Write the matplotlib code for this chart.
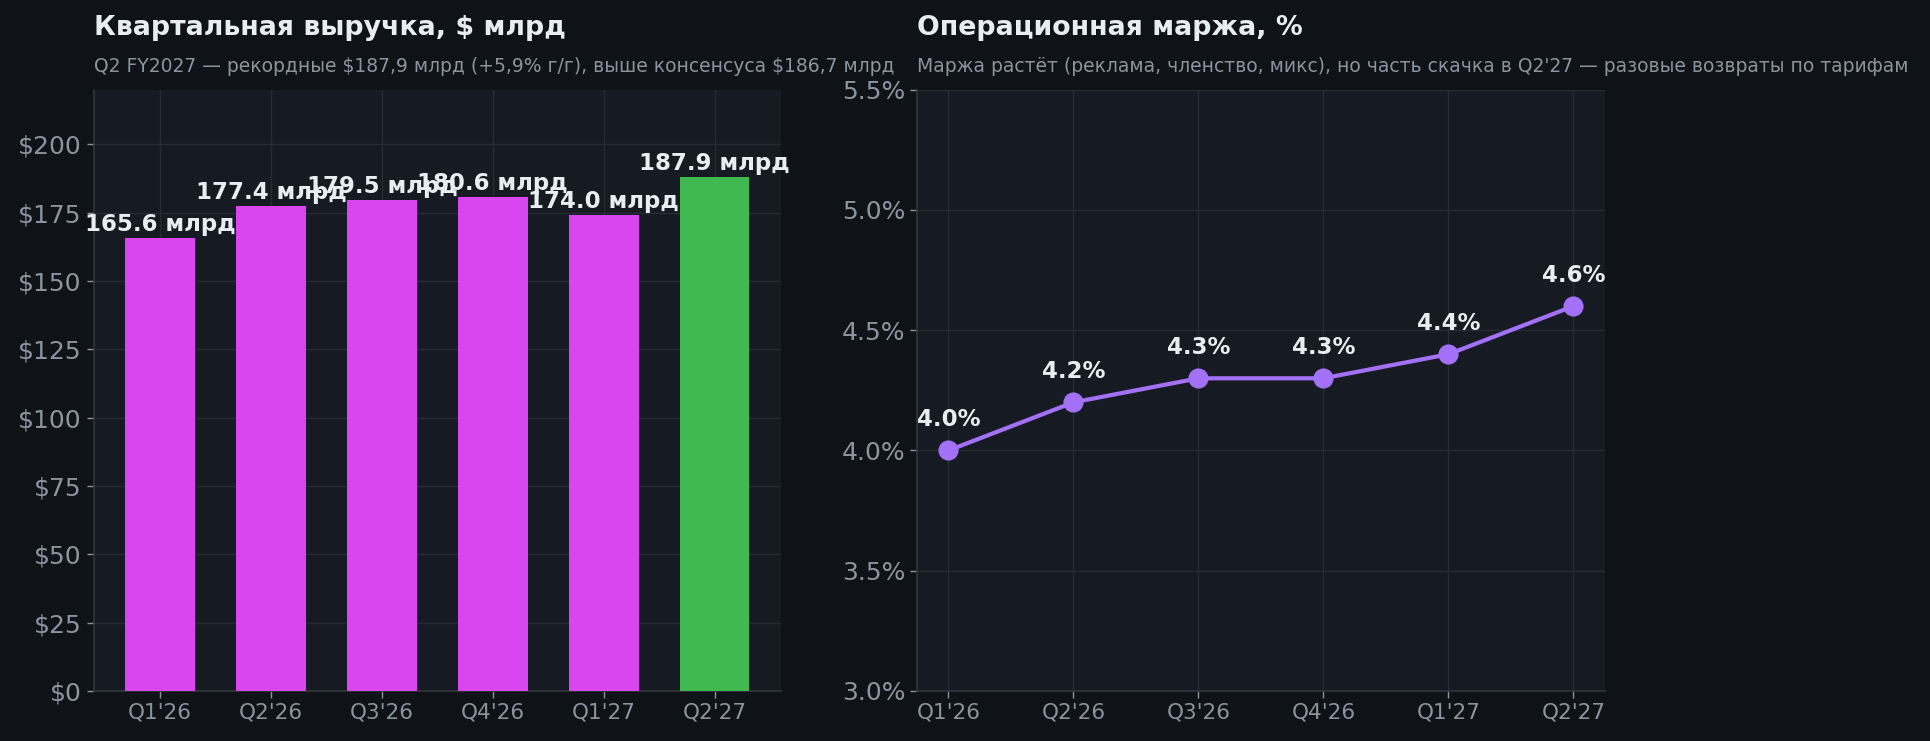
import matplotlib
matplotlib.use("Agg")
import matplotlib.pyplot as plt
from matplotlib.ticker import FuncFormatter, MultipleLocator

quarters = ["Q1'26", "Q2'26", "Q3'26", "Q4'26", "Q1'27", "Q2'27"]
revenue = [165.6, 177.4, 179.5, 180.6, 174.0, 187.9]
margin = [4.0, 4.2, 4.3, 4.3, 4.4, 4.6]

title_left = "Квартальная выручка, $ млрд"
sub_left = "Q2 FY2027 — рекордные $187,9 млрд (+5,9% г/г), выше консенсуса $186,7 млрд"
title_right = "Операционная маржа, %"
sub_right = "Маржа растёт (реклама, членство, микс), но часть скачка в Q2'27 — разовые возвраты по тарифам"

FIG_BG = "#0f1318"
AX_BG = "#161a22"
GRID = "#262b34"
SPINE = "#30363d"
TICK = "#8b949e"
TEXT = "#e6edf3"
MAGENTA = "#d946ef"
GREEN = "#3fb950"
PURPLE = "#a371f7"

plt.rcParams['font.family'] = ['DejaVu Sans']
plt.rcParams['text.parse_math'] = False

fig = plt.figure(figsize=(19.31, 7.41), dpi=100, facecolor=FIG_BG)
ax1 = fig.add_axes([0.0485, 0.0675, 0.356, 0.8115])
ax2 = fig.add_axes([0.475, 0.0675, 0.356, 0.8115])

for ax in (ax1, ax2):
    ax.set_facecolor(AX_BG)
    ax.grid(True, color=GRID, linewidth=1.0)
    ax.set_axisbelow(True)
    for s in ("top", "right"):
        ax.spines[s].set_visible(False)
    for s in ("left", "bottom"):
        ax.spines[s].set_color(SPINE)
        ax.spines[s].set_linewidth(1.2)
    ax.tick_params(axis='both', colors=TICK, length=5, width=1)
    ax.tick_params(axis='y', labelsize=18)
    ax.tick_params(axis='x', labelsize=15.5)

# Left: bars
x = list(range(len(quarters)))
colors = [MAGENTA] * (len(quarters) - 1) + [GREEN]
bars = ax1.bar(x, revenue, width=0.63, color=colors, zorder=3)
ax1.set_xlim(-0.6, len(quarters) - 0.4)
ax1.set_ylim(0, 220)
ax1.yaxis.set_major_locator(MultipleLocator(25))
ax1.yaxis.set_major_formatter(FuncFormatter(lambda v, p: f"${v:.0f}"))
ax1.set_xticks(x)
ax1.set_xticklabels(quarters)
for xi, v in zip(x, revenue):
    ax1.annotate(f"{v:.1f} млрд", (xi, v), xytext=(0, 5), textcoords="offset points",
                 ha="center", va="baseline", color=TEXT, fontsize=16.5, fontweight="bold", zorder=5)

# Right: line
ax2.plot(x, margin, color=PURPLE, linewidth=3, marker="o", markersize=13.5, zorder=3)
ax2.set_xlim(-0.25, len(quarters) - 0.75)
ax2.set_ylim(3.0, 5.5)
ax2.yaxis.set_major_locator(MultipleLocator(0.5))
ax2.yaxis.set_major_formatter(FuncFormatter(lambda v, p: f"{v:.1f}%"))
ax2.set_xticks(x)
ax2.set_xticklabels(quarters)
for xi, v in zip(x, margin):
    ax2.annotate(f"{v:.1f}%", (xi, v), xytext=(0, 17.5), textcoords="offset points",
                 ha="center", va="baseline", color=TEXT, fontsize=16.5, fontweight="bold", zorder=5)

for ax, t, s in ((ax1, title_left, sub_left), (ax2, title_right, sub_right)):
    ax.annotate(t, (0, 1), xycoords="axes fraction", xytext=(0, 39), textcoords="offset points",
                ha="left", va="baseline", color=TEXT, fontsize=19.3, fontweight="bold")
    ax.annotate(s, (0, 1), xycoords="axes fraction", xytext=(0, 13), textcoords="offset points",
                ha="left", va="baseline", color=TICK, fontsize=13.5)

fig.savefig("out.png", dpi=100, facecolor=FIG_BG)
